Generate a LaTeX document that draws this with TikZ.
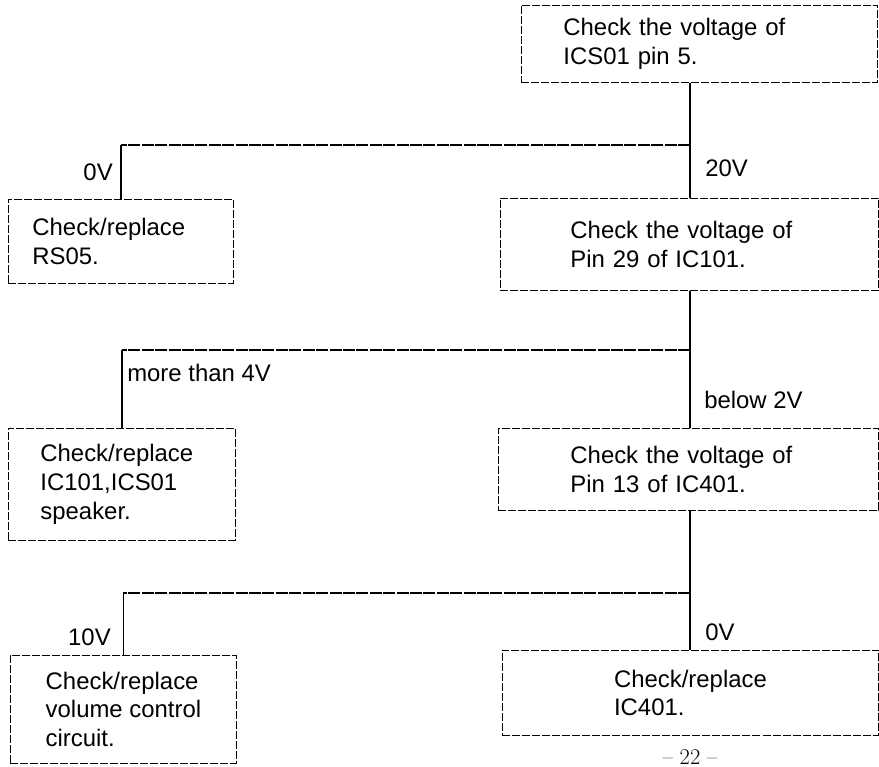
\documentclass[tikz,border=0pt]{standalone}
\usepackage{fontspec}
\setsansfont{Liberation Sans}
\usetikzlibrary{positioning}

\begin{document}
\begin{tikzpicture}[x=0.025cm, y=-0.025cm,
		chkbox/.style={draw, line width=0.6pt, dash pattern=on 2mm off 0.5mm,
			anchor=north west, inner xsep=0pt, align=left,
			font=\sffamily\fontsize{17}{20.5}\selectfont},
		vwire/.style={line width=1.1pt},
		hwire/.style={line width=0.9pt, dash pattern=on 3mm off 0.35mm},
		volt/.style={font=\sffamily\fontsize{17}{20.5}\selectfont, inner sep=0pt}
	]
		\useasboundingbox (0,0) rectangle (879,767);
		
		% boxes
		\node[chkbox, minimum width=8.9cm, minimum height=1.925cm, text width=6.8cm] (chk1) at (521,5)
			{Check the voltage of\\ICS01 pin 5.};
		\node[chkbox, minimum width=5.625cm, minimum height=2.1cm, text width=4.425cm] (rs05) at (8,199)
			{Check/replace\\RS05.};
		\node[chkbox, minimum width=9.45cm, minimum height=2.3cm, text width=5.95cm] (pin29) at (500,198)
			{Check the voltage of\\Pin 29 of IC101.};
		\node[chkbox, minimum width=5.675cm, minimum height=2.8cm, text width=4.075cm] (ic101) at (8,428)
			{Check/replace\\IC101,ICS01\\speaker.};
		\node[chkbox, minimum width=9.5cm, minimum height=2.05cm, text width=5.9cm] (pin13) at (498,428)
			{Check the voltage of\\Pin 13 of IC401.};
		\node[chkbox, minimum width=5.65cm, minimum height=2.7cm] (volctl) at (10,655)
			{Check/replace\\volume control\\circuit.};
		\node[chkbox, minimum width=9.4cm, minimum height=2.125cm] (ic401) at (502,650)
			{Check/replace\\IC401.};
		
		% branch points
		\coordinate (j1) at (690,145);
		\coordinate (j2) at (690,350);
		\coordinate (j3) at (690,593);
		
		\draw[vwire] (chk1.south -| j1) -- (j1) -- (pin29.north -| j1);
		\draw[hwire] (j1) -- (j1 -| rs05.north);
		\draw[vwire] (j1 -| rs05.north) -- (rs05.north);
		
		\draw[vwire] (pin29.south -| j2) -- (j2) -- (pin13.north -| j2);
		\draw[hwire] (j2) -- (j2 -| ic101.north);
		\draw[vwire] (j2 -| ic101.north) -- (ic101.north);
		
		\draw[vwire] (pin13.south -| j3) -- (j3) -- (ic401.north -| j3);
		\draw[hwire] (j3) -- (j3 -| volctl.north);
		\draw[vwire] (j3 -| volctl.north) -- (volctl.north);
		
		% voltages
		\node[volt, anchor=east] (v0a) at (113,172) {0V};
		\node[volt, anchor=west] (v20) at (705,168) {20V};
		\node[volt, anchor=west] (v4) at (127,373) {more than 4V};
		\node[volt, anchor=west] (v2) at (704,400) {below 2V};
		\node[volt, anchor=east] (v10) at (111,637) {10V};
		\node[volt, anchor=west] (v0b) at (705,632) {0V};
		
		\node[font=\fontsize{16}{18}\selectfont, anchor=base, inner sep=0pt] (pg) at (690,764) {-- 22 --};
	\end{tikzpicture}
\end{document}
